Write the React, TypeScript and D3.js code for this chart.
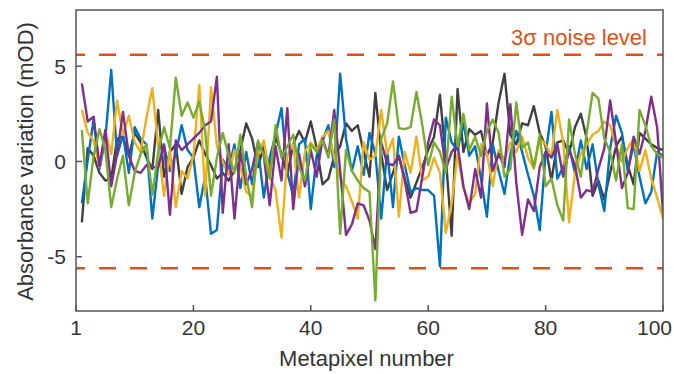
import React from 'react';
import * as d3 from 'd3';

// metapixel index 1..100
const pixels = d3.range(1, 101);

const graySeries = [
  -3.2, 0.7, 0.3, -0.6, -1.0, -0.9, 1.2, 1.3, 0.3, 1.5,
  1.0, 0.2, -0.4, 2.7, -0.8, 0.5, 0.9, -1.7, -0.3, 0.2,
  1.1, 0.4, -0.2, -0.9, -0.6, -1.0, -0.5, 0.6, 2.0, 1.2,
  -0.3, 0.8, -0.5, 1.3, 0.4, -0.7, 0.9, 1.6, 1.0, 2.1,
  0.7, -1.2, -0.9, 0.3, 0.8, 2.0, 1.6, 1.9, 0.5, -0.8,
  3.6, 0.4, -1.5, -0.6, 0.3, -0.9, -1.9, -1.1, -0.3, 0.6,
  1.3, 3.5, 0.2, -3.9, 3.8, 0.5, 1.7, 1.4, 1.6, 0.3,
  1.0, 3.1, 4.6, 1.4, 0.9, 2.0, 1.9, 2.9, 1.5, 0.8,
  -1.0, 1.0, 1.1, 0.4, 1.8, 2.5, 1.2, -1.8, -1.0, -2.0,
  -0.6, 0.8, 1.3, -0.2, -1.2, 1.5, 1.2, 0.9, 0.7, 0.6,
];

const blueSeries = [
  -2.2, 0.1, 2.2, -0.4, 1.2, 4.8, 0.3, 1.4, -0.6, 1.8,
  1.2, 0.9, -3.0, -0.2, 0.8, -0.5, 0.4, 1.9, 0.6, 0.2,
  -2.4, -0.8, -3.8, -3.6, 0.1, -0.4, 0.9, -1.4, 0.5, -1.2,
  0.7, -1.9, 0.2, 1.4, 2.8, -0.6, -1.8, 0.9, 1.2, -2.5,
  0.3, 1.1, 1.9, -0.3, 4.6, 1.2, -0.5, 0.8, -0.7, 1.5,
  0.4, -3.0, 0.6, -2.4, 1.3, -0.2, -1.6, -1.4, -1.5, -1.5,
  -1.8, -5.5, 2.3, 1.0, 0.6, 2.0, 0.3, 0.8, -0.9, -2.9,
  0.9, -0.5, -1.7, 0.4, 1.6, 0.5, -0.7, -1.8, -3.6, 0.4,
  2.6, -0.9, -0.3, 0.8, -0.6, 1.1, -0.4, 0.9, -1.2, -2.6,
  0.7, 2.4, 1.5, -0.5, 0.9, -0.8, -2.2, -1.6, 0.5, 0.3,
];

const yellowSeries = [
  2.7, 1.5, 1.1, -0.3, 1.6, 0.4, 3.2, 1.4, 2.4, 1.0,
  0.5, 2.3, 3.85, 0.8, -1.8, 0.6, -2.4, -0.5, -0.9, 0.3,
  4.0, -1.8, 3.9, 0.8, 0.0, -0.7, 0.6, -0.3, -1.6, -1.8,
  0.4, 1.1, -0.8, -1.5, -4.0, 0.3, 0.9, -1.9, 0.5, 1.0,
  0.6, 1.3, 1.6, 0.2, -0.9, -1.3, -2.1, -3.0, 1.0, 0.1,
  0.3, 2.7, 0.4, 1.2, -2.9, 0.5, -0.6, 1.3, -1.0, -0.8,
  0.2, -0.6, -3.75, -2.2, 0.4, -1.4, -2.2, -1.7, 0.9, 0.4,
  -1.3, 0.6, 0.1, 1.0, 0.5, 1.3, 0.2, -0.4, 1.2, 0.9,
  0.3, 2.7, 1.0, -3.2, -0.6, 0.4, 0.9, 1.4, 1.6, 2.1,
  1.9, 0.8, 0.0, 0.7, 1.2, -0.5, 0.6, -0.9, -1.9, -3.0,
];

const purpleSeries = [
  4.1, 2.1, 2.35, -0.25, 1.65, -1.3, 0.4, 2.6, 0.3, -0.5,
  -0.6, -0.2, -0.3, -0.3, 0.9, -2.8, 1.1, 0.6, 0.9, 1.2,
  1.5, 1.9, 2.1, 4.45, -2.7, 0.9, -3.0, 0.5, -1.2, -0.4,
  1.0, 0.3, -2.3, 0.8, -1.0, 2.8, -2.5, 0.4, -1.3, 0.6,
  -0.8, 1.2, 0.3, 2.7, -0.5, -3.85, -3.3, -2.2, -2.3, -3.1,
  -4.6, 1.0, -0.1, -0.2, 0.3, -1.0, -2.7, -2.6, -0.8, 1.0,
  2.2, 1.9, -0.4, 0.5, 0.9, -1.3, -2.5, -0.4, -1.9, 3.05,
  -0.5, 0.4, -0.3, 3.0, -1.1, -3.85, -2.0, -2.6, -0.3, 0.5,
  0.2, 0.9, -0.8, 0.6, -0.2, -1.9, -1.5, -1.6, -0.4, 0.7,
  3.2, 1.0, -1.4, -0.6, 1.3, 0.4, 1.6, 3.4, 1.8, -2.7,
];

const greenSeries = [
  1.65, -2.2, 0.3, 1.7, 0.6, -2.4, -0.9, 0.3, -2.3, -0.6,
  0.4, 0.9, -1.75, 0.5, 1.8, 0.7, 4.4, 2.4, 3.1, 2.3,
  3.15, 1.6, -1.8, 0.2, 1.5, 0.3, -0.6, 1.4, -0.8, -2.4,
  1.1, 0.3, -0.9, 1.9, 0.2, 0.8, 1.4, -0.3, -1.0, 0.9,
  0.5, 1.1, 0.2, 2.2, -3.8, 0.6, -0.5, -1.0, -1.4, -1.6,
  -7.3, 1.2, 2.0, 4.2, 1.75, 1.7, 1.8, 3.65, 1.9, -0.2,
  1.0, 0.5, -0.6, 3.4, 0.8, 2.5, 0.6, 1.3, 0.3, 1.6,
  2.2, 1.5, -0.8, -0.4, 3.1, 0.7, 1.0, -0.3, 1.4, -1.3,
  -0.9, -2.3, -3.1, 2.2, 0.4, -0.8, 1.5, 3.6, 3.3, 1.2,
  0.5, -1.0, 0.9, -2.45, -2.5, 2.7, 1.9, 0.8, 0.4, 0.2,
];

const seriesList = [
  { name: 'gray', values: graySeries, color: '#404040' },
  { name: 'blue', values: blueSeries, color: '#0072BD' },
  { name: 'yellow', values: yellowSeries, color: '#EDB120' },
  { name: 'purple', values: purpleSeries, color: '#7E2F8E' },
  { name: 'green', values: greenSeries, color: '#77AC30' },
];

const noiseLevel = 5.6;
const yTicks = [-5, 0, 5];
const xTickPositions = [0, 20, 40, 60, 80, 100];
const xTickLabels = ['1', '20', '40', '60', '80', '100'];

const W = 674;
const H = 374;
const margin = { left: 76, right: 11, top: 10, bottom: 63 };

export default function App() {
  const x = d3.scaleLinear().domain([0, 100]).range([margin.left, W - margin.right]);
  const y = d3.scaleLinear().domain([-7.85, 7.95]).range([H - margin.bottom, margin.top]);

  const line = d3
    .line<number>()
    .x((_, i) => x(pixels[i]))
    .y(d => y(d));

  const font = 'Liberation Sans, Arial, Helvetica, sans-serif';
  const axisColor = '#555';
  const textColor = '#333';

  return (
    <svg
      width={W}
      height={H}
      style={{ position: 'absolute', left: 0, top: 0, background: '#fff' }}
      fontFamily={font}
    >
      <defs>
        <clipPath id="plot-clip">
          <rect x={x(0)} y={y(7.95)} width={x(100) - x(0)} height={y(-7.85) - y(7.95)} />
        </clipPath>
      </defs>

      {/* noise level lines */}
      {[noiseLevel, -noiseLevel].map(v => (
        <line
          key={v}
          x1={x(0)}
          x2={x(100)}
          y1={y(v)}
          y2={y(v)}
          stroke="#D95319"
          strokeWidth={2.5}
          strokeDasharray="17 14"
          strokeDashoffset={8}
        />
      ))}

      <g clipPath="url(#plot-clip)">
        {seriesList.map(s => (
          <path
            key={s.name}
            d={line(s.values) || ''}
            fill="none"
            stroke={s.color}
            strokeWidth={2.4}
            strokeLinejoin="round"
          />
        ))}
      </g>

      {/* frame */}
      <rect
        x={x(0)}
        y={y(7.95)}
        width={x(100) - x(0)}
        height={y(-7.85) - y(7.95)}
        fill="none"
        stroke={axisColor}
        strokeWidth={1.5}
      />

      {/* y ticks */}
      {yTicks.map(t => (
        <g key={t}>
          <line x1={x(0)} x2={x(0) + 6} y1={y(t)} y2={y(t)} stroke={axisColor} strokeWidth={1.5} />
          <text
            x={x(0) - 10}
            y={y(t)}
            dy="0.35em"
            textAnchor="end"
            fontSize={21}
            fill={textColor}
          >
            {t}
          </text>
        </g>
      ))}

      {/* x ticks */}
      {xTickPositions.map((t, i) => {
        const last = i === xTickPositions.length - 1;
        return (
          <g key={t}>
            <line
              x1={x(t)}
              x2={x(t)}
              y1={y(-7.85)}
              y2={y(-7.85) - 6}
              stroke={axisColor}
              strokeWidth={1.5}
            />
            <text
              x={last ? W - 2 : x(t)}
              y={335}
              textAnchor={last ? 'end' : 'middle'}
              fontSize={21}
              fill={textColor}
            >
              {xTickLabels[i]}
            </text>
          </g>
        );
      })}

      <text x={(x(0) + x(100)) / 2 - 3} y={366} textAnchor="middle" fontSize={22} fill={textColor}>
        Metapixel number
      </text>

      <text
        transform={`translate(33, ${y(0)}) rotate(-90)`}
        textAnchor="middle"
        fontSize={22}
        fill={textColor}
      >
        Absorbance variation (mOD)
      </text>

      <text x={647} y={45} textAnchor="end" fontSize={22} fill="#D95319">
        3σ noise level
      </text>
    </svg>
  );
}
